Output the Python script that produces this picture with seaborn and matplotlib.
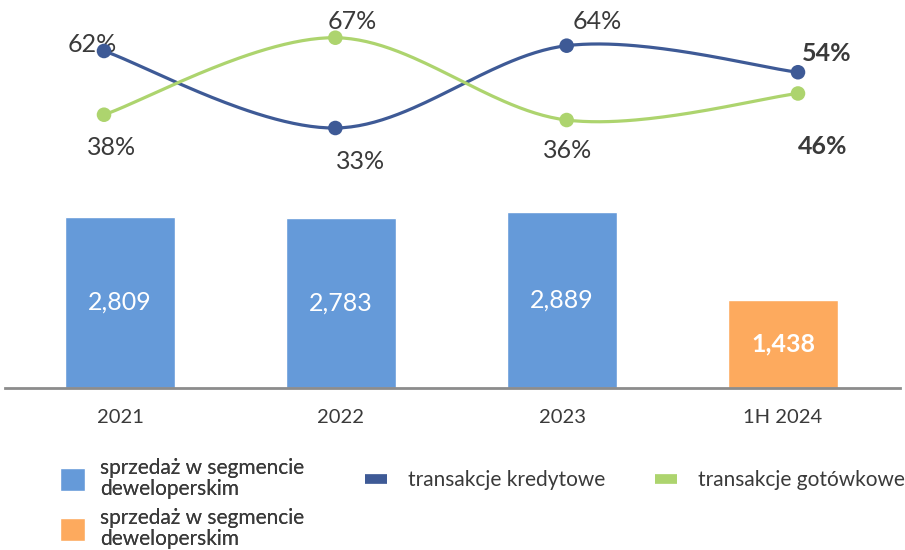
import numpy as np
import pandas as pd
import matplotlib
matplotlib.use("Agg")
import matplotlib.pyplot as plt
import seaborn as sns
from matplotlib.lines import Line2D
from matplotlib.patches import Patch

# ---- data ----
categories = ["2021", "2022", "2023", "1H 2024"]
sales = [2809, 2783, 2889, 1438]
sales_kind = ["full", "full", "full", "half"]
credit_share = [62, 33, 64, 54]
cash_share = [38, 67, 36, 46]
bar_legend_labels = ["sprzedaż w segmencie\ndeweloperskim", "sprzedaż w segmencie\ndeweloperskim"]
line_legend_labels = ["transakcje kredytowe", "transakcje gotówkowe"]

# ---- style ----
sns.set_theme(style="white")
plt.rcParams["font.family"] = ["Lato", "DejaVu Sans"]
TXT = "#3a3a3a"
BLUE = "#659ad9"
ORANGE = "#fdaa5e"
NAVY = "#3e5a96"
GREEN = "#add46e"

fig = plt.figure(figsize=(9.05, 5.5), dpi=100)

# ---- bars ----
ax = fig.add_axes([5 / 905, 162 / 550, 895 / 905, 388 / 550])
df = pd.DataFrame({"period": categories, "sales": sales, "kind": sales_kind})
sns.barplot(data=df, x="period", y="sales", hue="kind", order=categories,
            palette={"full": BLUE, "half": ORANGE}, width=0.5, dodge=False,
            legend=False, ax=ax, saturation=1)
ax.set_xlim(-0.520, 3.529)
ax.set_ylim(0, 6360)
for s in ["top", "left", "right"]:
    ax.spines[s].set_visible(False)
ax.spines["bottom"].set_color("#8c8c8c")
ax.spines["bottom"].set_linewidth(2)
ax.set_yticks([])
ax.set_xlabel("")
ax.set_ylabel("")
ax.tick_params(axis="x", length=0, pad=15, labelsize=14.5, labelcolor=TXT)
ax.patch.set_alpha(0)

for c in ax.containers:
    vals = [v for v in c.datavalues if not np.isnan(v)]
    if not len(vals):
        continue
    bold = any(v == sales[-1] for v in vals)
    ax.bar_label(c, labels=[f"{v:,.0f}" if not np.isnan(v) else "" for v in c.datavalues],
                 label_type="center", color="white", fontsize=18,
                 fontweight="bold" if bold else "normal")

# ---- lines ----
ax2 = fig.add_axes([0, 0, 1, 1])
ax2.set_axis_off()
ax2.patch.set_alpha(0)


def smooth(xs, ys, n=60):
    p = np.column_stack([xs, ys]).astype(float)
    ext = np.vstack([p[0], p, p[-1]])
    out = []
    for i in range(len(p) - 1):
        p0, p1, p2, p3 = ext[i], ext[i + 1], ext[i + 2], ext[i + 3]
        m1 = (p2 - p0) / 2
        m2 = (p3 - p1) / 2
        t = np.linspace(0, 1, n)[:, None]
        h00 = 2 * t**3 - 3 * t**2 + 1
        h10 = t**3 - 2 * t**2 + t
        h01 = -2 * t**3 + 3 * t**2
        h11 = t**3 - t**2
        seg = h00 * p1 + h10 * m1 + h01 * p2 + h11 * m2
        out.append(seg if i == 0 else seg[1:])
    out = np.vstack(out)
    return out[:, 0], out[:, 1]


xpos = np.arange(len(categories))
for vals, col in [(credit_share, NAVY), (cash_share, GREEN)]:
    sx, sy = smooth(xpos, vals)
    sns.lineplot(x=sx, y=sy, ax=ax2, color=col, linewidth=2.3, sort=False, estimator=None)
    sns.scatterplot(x=xpos, y=vals, ax=ax2, color=col, s=110, edgecolor="none", zorder=5)

ax2.set_xlim(-0.4496, 3.4626)
ax2.set_ylim(-125.9, 81.2)
ax2.set_axis_off()

credit_off = [(-12, 6), (25, -33), (31, 24), (29, 19)]
cash_off = [(8, -33), (17, 16), (1, -30), (25, -53)]
for i in range(len(categories)):
    last = i == len(categories) - 1
    for vals, offs in [(credit_share, credit_off), (cash_share, cash_off)]:
        ax2.annotate(f"{vals[i]}%", (xpos[i], vals[i]), xytext=offs[i],
                     textcoords="offset pixels", ha="center", va="center",
                     fontsize=18, color=TXT, fontweight="bold" if last else "normal")

# ---- legends ----
bar_handles = [Patch(facecolor=BLUE), Patch(facecolor=ORANGE)]
leg1 = fig.legend(bar_handles, bar_legend_labels, loc="upper left",
                  bbox_to_anchor=(60 / 905, 1 - 458 / 550), frameon=False,
                  fontsize=15, labelcolor=TXT, handlelength=1.2, handleheight=1.35,
                  handletextpad=0.72, labelspacing=0.4, borderpad=0, borderaxespad=0)
for t in leg1.get_texts():
    t.set_linespacing(1.08)
line_handles = [Line2D([], [], color=NAVY, lw=7, solid_capstyle="butt"),
                Line2D([], [], color=GREEN, lw=7, solid_capstyle="butt")]
leg2 = fig.legend(line_handles, line_legend_labels, loc="center left",
                  bbox_to_anchor=(365 / 905, 1 - 480 / 550), frameon=False, ncol=2,
                  fontsize=15, labelcolor=TXT, handlelength=1.05, handletextpad=1.0,
                  columnspacing=2.4, borderpad=0, borderaxespad=0)
fig.add_artist(leg1)

fig.savefig("out.png", dpi=100)
